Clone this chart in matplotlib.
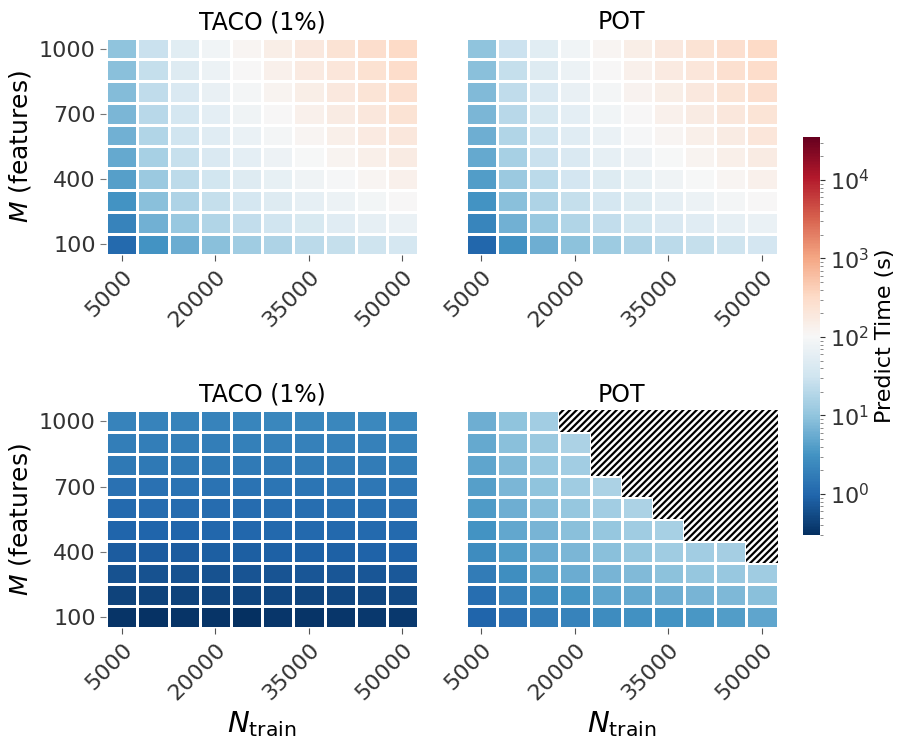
import matplotlib
matplotlib.use("Agg")
import matplotlib.pyplot as plt
import numpy as np
from matplotlib.colors import LogNorm
from matplotlib.patches import Rectangle

n_train = [5000, 10000, 15000, 20000, 25000, 30000, 35000, 40000, 45000, 50000]
m_features = [100, 200, 300, 400, 500, 600, 700, 800, 900, 1000]

# rows: M = 100 ... 1000, columns: N = 5000 ... 50000 (seconds)
taco_top = [
    [1.09, 3.1, 5.8, 9.0, 12.6, 16.6, 20.9, 25.7, 30.7, 36.1],
    [2.1, 6.1, 11.3, 17.5, 24.6, 32.4, 40.9, 50.3, 60.1, 70.5],
    [3.1, 9.0, 16.6, 25.7, 36.1, 47.6, 60.1, 73.9, 88.3, 104],
    [4.1, 11.8, 21.9, 33.9, 47.5, 62.6, 79.1, 97.2, 116, 136],
    [5.1, 14.7, 27.1, 42.0, 58.9, 77.7, 98.1, 121, 144, 169],
    [6.1, 17.5, 32.3, 50.0, 70.1, 92.4, 117, 143, 171, 201],
    [7.0, 20.2, 37.4, 58.0, 81.3, 107, 135, 166, 199, 233],
    [8.0, 23.0, 42.6, 65.9, 92.5, 122, 154, 189, 226, 265],
    [9.0, 25.8, 47.7, 73.8, 104, 136, 172, 212, 253, 297],
    [9.9, 28.5, 52.8, 81.7, 115, 151, 191, 235, 280, 329],
]
pot_top = [
    [1.0, 3.0, 5.9, 9.2, 12.4, 16.9, 21.2, 25.3, 31.2, 35.5],
    [2.2, 6.2, 11.1, 17.8, 24.2, 32.9, 41.5, 49.6, 60.8, 69.9],
    [3.2, 9.1, 16.9, 25.3, 36.8, 47.0, 60.9, 73.2, 89.5, 103],
    [4.0, 12.0, 21.5, 34.4, 47.0, 63.4, 78.3, 98.5, 115, 138],
    [5.2, 14.5, 27.6, 41.5, 59.7, 76.9, 99.2, 120, 146, 167],
    [6.0, 17.8, 31.9, 50.7, 69.4, 93.6, 116, 145, 169, 203],
    [7.1, 19.9, 37.9, 57.4, 82.4, 106, 137, 164, 201, 231],
    [7.9, 23.3, 42.1, 66.8, 91.6, 124, 152, 191, 224, 268],
    [9.1, 25.5, 48.3, 73.0, 105, 135, 174, 210, 256, 294],
    [9.8, 28.8, 52.2, 82.6, 114, 153, 189, 238, 277, 333],
]
taco_bottom = [
    [0.33, 0.32, 0.33, 0.34, 0.31, 0.35, 0.33, 0.35, 0.36, 0.37],
    [0.47, 0.46, 0.47, 0.48, 0.48, 0.50, 0.49, 0.50, 0.51, 0.52],
    [0.64, 0.63, 0.64, 0.65, 0.66, 0.68, 0.69, 0.70, 0.71, 0.73],
    [0.80, 0.80, 0.81, 0.82, 0.83, 0.87, 0.88, 0.89, 0.90, 0.92],
    [0.96, 0.97, 0.98, 0.99, 1.00, 1.05, 1.06, 1.07, 1.09, 1.12],
    [1.12, 1.13, 1.14, 1.15, 1.17, 1.22, 1.23, 1.25, 1.27, 1.30],
    [1.32, 1.33, 1.35, 1.36, 1.38, 1.44, 1.46, 1.48, 1.50, 1.53],
    [1.55, 1.56, 1.58, 1.60, 1.62, 1.68, 1.70, 1.72, 1.75, 1.78],
    [1.80, 1.80, 1.82, 1.85, 1.88, 1.95, 1.98, 2.00, 2.03, 2.07],
    [2.05, 2.08, 2.10, 2.12, 2.16, 2.25, 2.28, 2.30, 2.35, 2.40],
]
nan = np.nan
pot_bottom = [
    [0.97, 1.30, 1.74, 2.07, 2.62, 2.94, 3.12, 3.5, 3.94, 4.69],
    [1.22, 1.95, 2.62, 3.31, 4.69, 5.27, 5.93, 6.66, 7.49, 8.9],
    [1.74, 2.77, 4.43, 5.59, 6.66, 7.94, 9.5, 10.6, 11.2, 12.6],
    [2.62, 3.94, 5.59, 7.06, 8.9, 10.6, 12.6, 13.4, 14.2, nan],
    [3.12, 4.97, 6.66, 8.9, 10.6, 12.6, 15.1, nan, nan, nan],
    [3.72, 5.93, 8.4, 10.6, 13.4, 16.0, nan, nan, nan, nan],
    [4.18, 7.06, 10.0, 12.6, 16.0, nan, nan, nan, nan, nan],
    [4.69, 7.94, 11.2, 13.4, nan, nan, nan, nan, nan, nan],
    [5.27, 8.9, 11.9, 16.0, nan, nan, nan, nan, nan, nan],
    [5.93, 10.0, 13.4, nan, nan, nan, nan, nan, nan, nan],
]

titles = ["TACO (1%)", "POT", "TACO (1%)", "POT"]
panels = [taco_top, pot_top, taco_bottom, pot_bottom]

plt.rcParams['hatch.linewidth'] = 1.6
norm = LogNorm(vmin=0.3, vmax=3.5e4)
cmap = plt.get_cmap("RdBu_r")

fig = plt.figure(figsize=(9.01, 7.38), dpi=100)
boxes = [
    [0.118, 0.654, 0.346, 0.295],
    [0.517, 0.654, 0.346, 0.295],
    [0.118, 0.149, 0.346, 0.295],
    [0.517, 0.149, 0.346, 0.295],
]

for k, (box, data, title) in enumerate(zip(boxes, panels, titles)):
    ax = fig.add_axes(box)
    arr = np.array(data, dtype=float)
    mesh = ax.pcolormesh(np.arange(11), np.arange(11), np.ma.masked_invalid(arr),
                         cmap=cmap, norm=norm, edgecolors="white", linewidth=1.0, zorder=1)
    # hatch the missing cells (POT ran out of time/memory)
    for r, c in zip(*np.where(np.isnan(arr))):
        ax.add_patch(Rectangle((c, r), 1, 1, facecolor="white", edgecolor="black",
                               hatch="/////", linewidth=0, zorder=2))
    ax.set_xlim(0, 10)
    ax.set_ylim(0, 10)
    for s in ax.spines.values():
        s.set_visible(False)
    ax.set_xticks([0.5, 3.5, 6.5, 9.5])
    ax.set_xticklabels([str(n_train[i]) for i in [0, 3, 6, 9]], rotation=45, ha="right",
                       rotation_mode="anchor", fontsize=16, color="#333333")
    ax.tick_params(axis="x", length=4, color="#555555", pad=4)
    if k % 2 == 0:
        ax.set_yticks([0.5, 3.5, 6.5, 9.5])
        ax.set_yticklabels([str(m_features[i]) for i in [0, 3, 6, 9]], fontsize=16, color="#333333")
        ax.tick_params(axis="y", length=4, color="#777777")
        ax.set_ylabel(r"$M$ (features)", fontsize=18)
    else:
        ax.set_yticks([])
    if k >= 2:
        ax.set_xlabel(r"$N_{\mathrm{train}}$", fontsize=21)
    ax.set_title(title, fontsize=17, pad=6)

cax = fig.add_axes([0.891, 0.275, 0.019, 0.539])
cb = fig.colorbar(plt.cm.ScalarMappable(norm=norm, cmap=cmap), cax=cax)
cb.outline.set_visible(False)
cb.ax.tick_params(labelsize=16, colors="#333333")
cb.ax.tick_params(which="minor", colors="#777777")
cb.set_label("Predict Time (s)", fontsize=16)

fig.savefig("out.png", dpi=100)
